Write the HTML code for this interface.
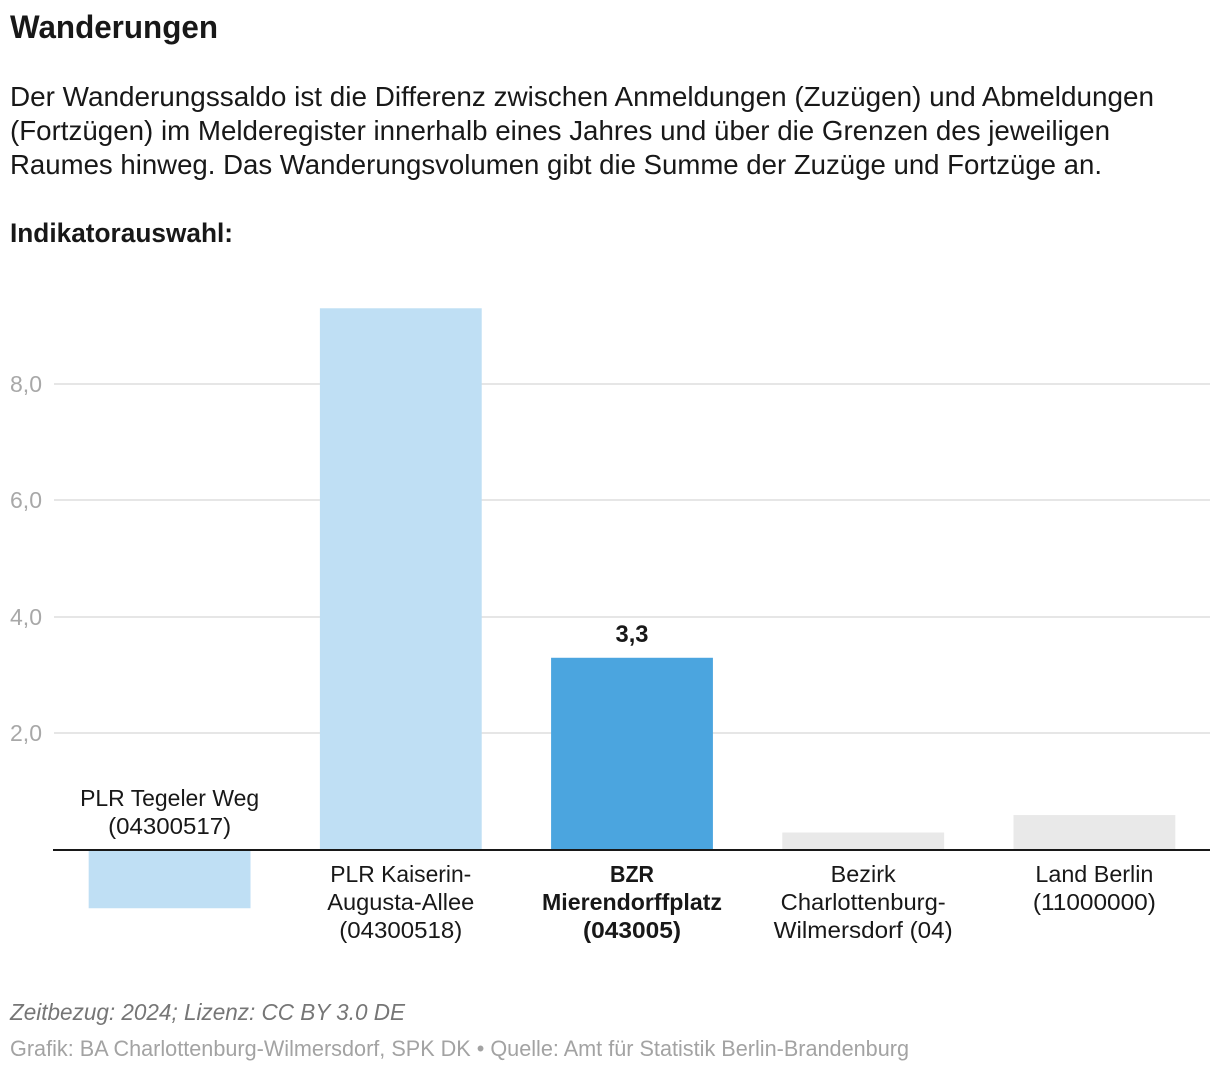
<!DOCTYPE html>
<html lang="de">
<head>
<meta charset="utf-8">
<title>Wanderungen</title>
<style>
html,body{margin:0;padding:0;background:#fff;width:1220px;height:1072px;overflow:hidden}
svg{display:block;font-family:"Liberation Sans",Arial,sans-serif}
</style>
</head>
<body>
<svg id="chart" width="1220" height="1072" viewBox="0 0 1220 1072" xmlns="http://www.w3.org/2000/svg">
  <rect width="1220" height="1072" fill="#fff"/>
  <text x="10" y="38" font-size="32" font-weight="700" fill="#181818" textLength="208" lengthAdjust="spacingAndGlyphs">Wanderungen</text>
  <g font-size="27.5" fill="#181818">
    <text x="10" y="106" textLength="1144" lengthAdjust="spacingAndGlyphs">Der Wanderungssaldo ist die Differenz zwischen Anmeldungen (Zuzügen) und Abmeldungen</text>
    <text x="10" y="140" textLength="1100" lengthAdjust="spacingAndGlyphs">(Fortzügen) im Melderegister innerhalb eines Jahres und über die Grenzen des jeweiligen</text>
    <text x="10" y="174" textLength="1092" lengthAdjust="spacingAndGlyphs">Raumes hinweg. Das Wanderungsvolumen gibt die Summe der Zuzüge und Fortzüge an.</text>
  </g>
  <text x="10" y="242" font-size="27" font-weight="700" fill="#181818" textLength="223" lengthAdjust="spacingAndGlyphs">Indikatorauswahl:</text>
  <g id="plot"></g>
  <text x="10" y="1020" font-size="23" font-style="italic" fill="#767676" textLength="395" lengthAdjust="spacingAndGlyphs">Zeitbezug: 2024; Lizenz: CC BY 3.0 DE</text>
  <text x="10" y="1056" font-size="22" fill="#a3a3a3" textLength="899" lengthAdjust="spacingAndGlyphs">Grafik: BA Charlottenburg-Wilmersdorf, SPK DK • Quelle: Amt für Statistik Berlin-Brandenburg</text>
</svg>
<script>
const categories = [
  ["PLR Tegeler Weg", "(04300517)"],
  ["PLR Kaiserin-", "Augusta-Allee", "(04300518)"],
  ["BZR", "Mierendorffplatz", "(043005)"],
  ["Bezirk", "Charlottenburg-", "Wilmersdorf (04)"],
  ["Land Berlin", "(11000000)"]
];
const seriesValues = [-1.0, 9.3, 3.3, 0.3, 0.6];
const areaLevels = ["peer", "peer", "focus", "context", "context"];
const tickValues = [2, 4, 6, 8];
const tickLabels = ["2,0", "4,0", "6,0", "8,0"];
const focusValueLabel = "3,3";

const levelColor = { peer: "#bfdff4", focus: "#4ba5df", context: "#e9e9e9" };
const labelWidth = {
  "PLR Tegeler Weg": 179, "(04300517)": 123, "PLR Kaiserin-": 141, "Augusta-Allee": 147,
  "(04300518)": 123, "BZR": 44, "Mierendorffplatz": 180, "(043005)": 98, "Bezirk": 65,
  "Charlottenburg-": 165, "Wilmersdorf (04)": 179, "Land Berlin": 118, "(11000000)": 123
};
const NS = "http://www.w3.org/2000/svg";
const plot = document.getElementById("plot");
const plotLeft = 54, plotRight = 1210, zeroY = 850, unitHeight = 58.25, barRatio = 0.7;
const step = (plotRight - plotLeft) / categories.length;
function yScale(v) { return zeroY - v * unitHeight; }
function xCenter(i) { return plotLeft + step * (i + 0.5); }

function make(tag, attrs, text) {
  const el = document.createElementNS(NS, tag);
  for (const k in attrs) el.setAttribute(k, attrs[k]);
  if (text !== undefined) el.textContent = text;
  plot.appendChild(el);
  return el;
}

tickValues.forEach(function (v, i) {
  const gy = Math.floor(yScale(v));
  const line = make("line", { x1: plotLeft, x2: plotRight, y1: gy, y2: gy, stroke: "#e6e6e6", "stroke-width": 2 });
  
  
  const tick = make("text", { x: 42, y: gy + 8, "text-anchor": "end", "font-size": 23, fill: "#a8a8a8", textLength: 32, lengthAdjust: "spacingAndGlyphs" }, tickLabels[i]);
  
  
});

seriesValues.forEach(function (v, i) {
  const w = step * barRatio;
  const bar = make("rect", {
    x: xCenter(i) - w / 2,
    y: Math.min(yScale(v), zeroY),
    width: w,
    height: Math.abs(yScale(v) - zeroY),
    fill: levelColor[areaLevels[i]]
  });
  
  

  const lines = categories[i];
  const isFocus = areaLevels[i] === "focus";
  lines.forEach(function (t, j) {
    const base = v < 0 ? zeroY - 44 + j * 28 : zeroY + 32 + j * 28;
    const label = make("text", {
      x: xCenter(i),
      y: base,
      "text-anchor": "middle",
      "font-size": 23,
      "font-weight": isFocus ? 700 : 400,
      fill: "#181818",
      textLength: labelWidth[t] || 100,
      lengthAdjust: "spacingAndGlyphs"
    }, t);
    
    
  });

  if (isFocus) {
    const val = make("text", {
      x: xCenter(i),
      y: yScale(v) - 16,
      "text-anchor": "middle",
      "font-size": 24,
      "font-weight": 700,
      fill: "#181818",
      textLength: 33,
      lengthAdjust: "spacingAndGlyphs"
    }, focusValueLabel);
    
    
  }
});

const axis = make("line", { x1: plotLeft - 1, x2: plotRight, y1: zeroY, y2: zeroY, stroke: "#181818", "stroke-width": 2 });


</script>
</body>
</html>
